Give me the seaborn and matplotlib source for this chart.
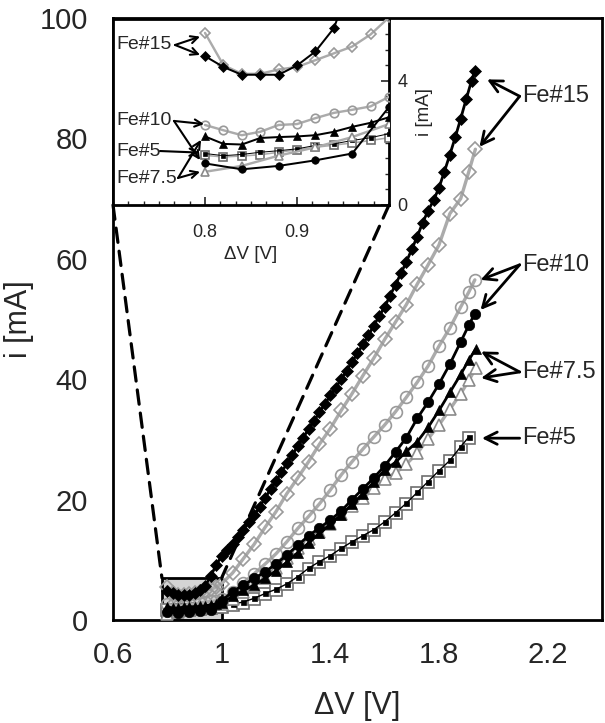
import matplotlib
matplotlib.use("Agg")
import matplotlib.pyplot as plt
import seaborn as sns
from matplotlib.patches import Rectangle, ConnectionPatch
from matplotlib.ticker import FixedLocator, FixedFormatter, MultipleLocator

sns.set_style("white")
plt.rcParams['font.family'] = ['Liberation Sans', 'DejaVu Sans']

# ---------------- data ----------------
# Fe#15, black filled diamonds
v_fe15_b = [0.80, 0.82, 0.84, 0.86, 0.88, 0.90, 0.92, 0.94, 0.96, 0.98, 1.00, 1.02, 1.04, 1.06,
            1.08, 1.10, 1.12, 1.14, 1.16, 1.18, 1.20, 1.22, 1.24, 1.26, 1.28, 1.30, 1.32, 1.34,
            1.36, 1.38, 1.40, 1.42, 1.44, 1.46, 1.48, 1.50, 1.52, 1.54, 1.56, 1.58, 1.60, 1.62,
            1.64, 1.66, 1.68, 1.70, 1.72, 1.74, 1.76, 1.78, 1.80, 1.82, 1.84, 1.86, 1.88, 1.90,
            1.92, 1.932]
i_fe15_b = [4.80, 4.45, 4.20, 4.20, 4.20, 4.50, 4.95, 5.70, 7.30, 9.20, 10.6, 11.6, 12.7, 13.8,
            15.0, 16.2, 17.4, 18.8, 20.3, 21.7, 23.1, 24.5, 26.0, 27.4, 28.9, 30.3, 31.7, 33.1,
            34.5, 35.9, 37.3, 38.6, 40.0, 41.4, 42.9, 44.3, 45.8, 47.3, 48.9, 50.5, 52.0, 53.9,
            55.7, 57.6, 59.5, 61.6, 63.7, 66.0, 68.0, 69.7, 71.8, 74.5, 77.3, 80.2, 83.3, 86.5,
            89.6, 91.2]

# Fe#15, grey open diamonds
v_fe15_g = [0.80, 0.82, 0.84, 0.86, 0.88, 0.90, 0.92, 0.94, 0.96, 0.98, 1.00,
            1.04, 1.08, 1.12, 1.16, 1.20, 1.24, 1.28, 1.32, 1.36, 1.40, 1.44, 1.48, 1.52,
            1.56, 1.60, 1.64, 1.68, 1.72, 1.76, 1.80, 1.84, 1.88, 1.91, 1.934]
i_fe15_g = [5.55, 4.51, 4.23, 4.23, 4.37, 4.45, 4.67, 4.89, 5.11, 5.50, 6.05,
            7.8, 10.2, 12.6, 15.4, 18.0, 21.0, 23.6, 26.3, 29.2, 31.8, 34.8, 37.6, 40.6,
            43.5, 46.6, 49.5, 52.4, 55.8, 59.0, 62.3, 67.5, 70.0, 74.5, 78.2]

# Fe#10, grey open circles
v_fe10_g = [0.80, 0.82, 0.84, 0.86, 0.88, 0.90, 0.92, 0.94, 0.96, 0.98, 1.00,
            1.04, 1.08, 1.12, 1.16, 1.20, 1.24, 1.28, 1.32, 1.36, 1.40, 1.44, 1.48, 1.52,
            1.56, 1.60, 1.64, 1.68, 1.72, 1.76, 1.80, 1.84, 1.88, 1.91, 1.932]
i_fe10_g = [2.58, 2.41, 2.25, 2.36, 2.58, 2.61, 2.80, 2.97, 3.07, 3.18, 3.49,
            4.6, 6.2, 7.7, 9.3, 11.0, 13.0, 15.2, 17.2, 19.3, 21.6, 24.1, 26.3, 28.4,
            30.4, 32.4, 34.6, 37.0, 39.5, 42.2, 45.5, 48.5, 52.0, 54.5, 56.5]

# Fe#10, black filled circles
v_fe10_b = [0.80, 0.84, 0.88, 0.92, 0.96, 1.00, 1.04, 1.08, 1.12, 1.16, 1.20, 1.24, 1.28,
            1.32, 1.36, 1.40, 1.44, 1.48, 1.52, 1.56, 1.60, 1.64, 1.68, 1.72, 1.76, 1.80,
            1.84, 1.88, 1.91, 1.932]
i_fe10_b = [1.34, 1.15, 1.26, 1.44, 1.66, 3.16, 4.7, 5.8, 6.9, 8.0, 9.3, 10.8, 12.4,
            14.0, 15.3, 16.6, 18.1, 20.0, 21.8, 23.6, 25.6, 27.9, 30.3, 33.5, 36.2, 39.2,
            42.5, 46.2, 49.0, 50.9]

# Fe#7.5, black filled triangles
v_fe75_b = [0.80, 0.82, 0.84, 0.86, 0.88, 0.90, 0.92, 0.94, 0.96, 0.98, 1.00,
            1.04, 1.08, 1.12, 1.16, 1.20, 1.24, 1.28, 1.32, 1.36, 1.40, 1.44, 1.48, 1.52,
            1.56, 1.60, 1.64, 1.68, 1.72, 1.76, 1.80, 1.84, 1.88, 1.91, 1.935]
i_fe75_b = [2.21, 1.97, 1.95, 2.16, 2.19, 2.21, 2.25, 2.36, 2.52, 2.65, 2.83,
            3.9, 4.9, 5.8, 6.9, 8.2, 9.6, 11.2, 12.8, 14.4, 15.9, 17.5, 19.2, 21.0,
            22.9, 24.9, 26.2, 28.0, 29.6, 32.0, 34.8, 37.8, 40.8, 43.2, 45.0]

# Fe#7.5, grey open triangles
v_fe75_g = [0.80, 0.84, 0.88, 0.92, 0.96, 1.00, 1.04, 1.08, 1.12, 1.16, 1.20, 1.24, 1.28,
            1.32, 1.36, 1.40, 1.44, 1.48, 1.52, 1.56, 1.60, 1.64, 1.68, 1.72, 1.76, 1.80,
            1.84, 1.88, 1.91, 1.935]
i_fe75_g = [1.07, 1.26, 1.59, 1.86, 2.19, 2.61, 3.5, 4.6, 5.7, 7.0, 8.6, 10.3, 11.9,
            13.4, 14.6, 16.0, 17.6, 18.9, 20.2, 21.9, 23.5, 24.4, 25.9, 27.7, 30.1, 32.4,
            35.0, 37.6, 39.8, 41.8]

# Fe#5, small black squares and grey open squares
v_fe5 = [0.80, 0.82, 0.84, 0.86, 0.88, 0.90, 0.92, 0.94, 0.96, 0.98, 1.00,
         1.04, 1.08, 1.12, 1.16, 1.20, 1.24, 1.28, 1.32, 1.36, 1.40, 1.44, 1.48, 1.52,
         1.56, 1.60, 1.64, 1.68, 1.72, 1.76, 1.80, 1.84, 1.88, 1.91]
i_fe5_b = [1.66, 1.59, 1.63, 1.70, 1.75, 1.81, 1.92, 1.97, 2.08, 2.17, 2.30,
           2.6, 3.0, 3.6, 4.4, 5.1, 6.0, 7.2, 8.6, 9.7, 10.7, 11.9, 13.0, 14.0,
           15.0, 16.3, 17.8, 19.4, 21.2, 23.0, 24.8, 26.5, 28.8, 30.4]
i_fe5_g = [1.60, 1.55, 1.58, 1.62, 1.70, 1.78, 1.86, 1.93, 2.00, 2.08, 2.17,
           2.5, 2.9, 3.5, 4.3, 5.0, 5.9, 7.1, 8.5, 9.6, 10.6, 11.8, 12.9, 13.9,
           14.9, 16.2, 17.7, 19.3, 21.1, 22.9, 24.7, 26.4, 28.7, 30.3]

# axis ticks / labels
x_major = [0.6, 0.8, 1.0, 1.2, 1.4, 1.6, 1.8, 2.0, 2.2, 2.4]
x_labels = ['0.6', '', '1', '', '1.4', '', '1.8', '', '2.2', '']
y_major = [0, 20, 40, 60, 80, 100]
y_labels = ['0', '20', '40', '60', '80', '100']
inset_x_major = [0.8, 0.9]
inset_x_labels = ['0.8', '0.9']
inset_y_major = [0, 4]
inset_y_labels = ['0', '4']

# zoom box shown in main panel (V range, mA range)
box_v = [0.78, 1.0]
box_i = [0.0, 7.0]

GRAY = '#ababab'
GRAY_EDGE = '#9a9a9a'


def series(axis, scale):
    def draw(v, i, color, lw, marker, ms, mfc, mec, mew, z):
        sns.lineplot(x=v, y=i, ax=axis, color=color, linewidth=lw * scale,
                     marker=marker, markersize=ms * scale, markerfacecolor=mfc,
                     markeredgecolor=mec, markeredgewidth=mew, estimator=None,
                     sort=False, legend=False, zorder=z)
    # grey series first
    draw(v_fe5, i_fe5_g, GRAY, 1.6, 's', 8.5, 'white', '#6e6e6e', 1.2, 3)
    draw(v_fe5, i_fe5_b, 'black', 1.0, 's', 3.6, 'black', 'black', 0.5, 3.1)
    draw(v_fe75_g, i_fe75_g, GRAY, 2.4, '^', 8.5, 'white', '#8a8a8a', 1.2, 3.2)
    draw(v_fe10_g, i_fe10_g, GRAY, 2.4, 'o', 8.5, 'none', GRAY_EDGE, 1.2, 3.3)
    draw(v_fe15_g, i_fe15_g, GRAY, 2.4, 'D', 7.0, 'none', GRAY_EDGE, 1.2, 3.4)
    # black series
    draw(v_fe75_b, i_fe75_b, 'black', 2.0, '^', 7.5, 'black', 'black', 0.5, 4)
    draw(v_fe10_b, i_fe10_b, 'black', 2.0, 'o', 7.5, 'black', 'black', 0.5, 4.1)
    draw(v_fe15_b, i_fe15_b, 'black', 2.0, 'D', 6.5, 'black', 'black', 0.5, 4.2)


fig = plt.figure(figsize=(6.05, 7.23), dpi=100)
ax = fig.add_axes([0.1868, 0.1425, 0.8082, 0.8326])
series(ax, 1.0)

ax.add_patch(Rectangle((box_v[0], box_i[0]), box_v[1] - box_v[0], box_i[1] - box_i[0],
                       facecolor='#d4d4d4', edgecolor='black', linewidth=2.0, zorder=1.5))

ax.set_xlim(0.6, 2.4)
ax.set_ylim(0, 100)
ax.xaxis.set_major_locator(FixedLocator(x_major))
ax.xaxis.set_major_formatter(FixedFormatter(x_labels))
ax.xaxis.set_minor_locator(MultipleLocator(0.05))
ax.yaxis.set_major_locator(FixedLocator(y_major))
ax.yaxis.set_major_formatter(FixedFormatter(y_labels))
ax.yaxis.set_minor_locator(MultipleLocator(5))
ax.tick_params(which='major', direction='in', length=8, width=1.4, labelsize=21,
               top=False, right=False)
ax.tick_params(which='minor', direction='in', length=4, width=1.1, top=False, right=False)
ax.tick_params(axis='x', which='major', pad=15)
ax.tick_params(axis='y', which='major', pad=18)
for s in ax.spines.values():
    s.set_linewidth(2.0)
    s.set_color('black')
ax.set_xlabel('\u0394V [V]', fontsize=22, labelpad=16)
ax.set_ylabel('i [mA]', fontsize=22, labelpad=4)

# main annotations
af = dict(arrowstyle='->', lw=2.0, color='black', mutation_scale=22, shrinkA=0, shrinkB=0)
main_notes = [
    ('Fe#15', 87.0, [(1.977, 89.8), (1.949, 78.6)]),
    ('Fe#10', 59.0, [(1.953, 56.5), (1.953, 51.5)]),
    ('Fe#7.5', 41.2, [(1.955, 44.6), (1.955, 40.2)]),
    ('Fe#5', 30.2, [(1.958, 30.2)]),
]
for label, yv, targets in main_notes:
    ax.text(2.105, yv, label, fontsize=17, ha='left', va='center', zorder=6)
    for t in targets:
        ax.annotate('', xy=t, xytext=(2.097, yv), arrowprops=af, zorder=6)

# ---------------- inset ----------------
ax_in = fig.add_axes([0.1868, 0.7165, 0.4562, 0.2573])
ax_in.set_facecolor('white')
series(ax_in, 0.72)
ax_in.set_xlim(0.7, 1.0)
ax_in.set_ylim(0, 6)
ax_in.xaxis.set_major_locator(FixedLocator(inset_x_major))
ax_in.xaxis.set_major_formatter(FixedFormatter(inset_x_labels))
ax_in.xaxis.set_minor_locator(MultipleLocator(0.1 / 6))
ax_in.yaxis.tick_right()
ax_in.yaxis.set_label_position('right')
ax_in.yaxis.set_major_locator(FixedLocator(inset_y_major))
ax_in.yaxis.set_major_formatter(FixedFormatter(inset_y_labels))
ax_in.yaxis.set_minor_locator(MultipleLocator(0.5))
ax_in.tick_params(which='major', direction='in', length=6, width=1.2, labelsize=13,
                  top=False, left=False, right=True, bottom=True,
                  labelleft=False, labelright=True)
ax_in.tick_params(which='minor', direction='in', length=3, width=1.0,
                  top=False, left=False, right=True, bottom=True)
ax_in.tick_params(axis='x', which='major', pad=14)
ax_in.tick_params(axis='y', which='major', pad=6)
for s in ax_in.spines.values():
    s.set_linewidth(2.0)
    s.set_color('black')
ax_in.set_xlabel('\u0394V [V]', fontsize=13.5, labelpad=3)
ax_in.set_ylabel('i [mA]', fontsize=13.5, labelpad=6)

ai = dict(arrowstyle='->', lw=1.5, color='black', mutation_scale=13, shrinkA=0, shrinkB=0)
inset_notes = [
    ('Fe#15', 5.16, (0.7674, 5.16), [(0.7946, 5.43), (0.7946, 4.84)]),
    ('Fe#10', 2.74, (0.7663, 2.71), [(0.7989, 2.61), (0.7946, 1.45)]),
    ('Fe#5', 1.74, (0.7511, 1.74), [(0.7935, 1.69)]),
    ('Fe#7.5', 0.84, (0.7707, 0.87), [(0.7957, 2.10), (0.7946, 1.07)]),
]
for label, yv, vertex, targets in inset_notes:
    ax_in.text(0.7035, yv, label, fontsize=14, ha='left', va='center', zorder=6)
    for t in targets:
        ax_in.annotate('', xy=t, xytext=vertex, arrowprops=ai, zorder=6)

# dashed connector lines from zoom box to inset corners
for corner_in, corner_box in [((0, 0), (box_v[0], box_i[1])), ((1, 0), (box_v[1], box_i[1]))]:
    con = ConnectionPatch(xyA=corner_in, coordsA=ax_in.transAxes,
                          xyB=corner_box, coordsB=ax.transData,
                          linestyle=(0, (4.5, 2.8)), linewidth=2.3, color='black', zorder=1.6)
    fig.add_artist(con)

fig.savefig('out.png', dpi=100)
